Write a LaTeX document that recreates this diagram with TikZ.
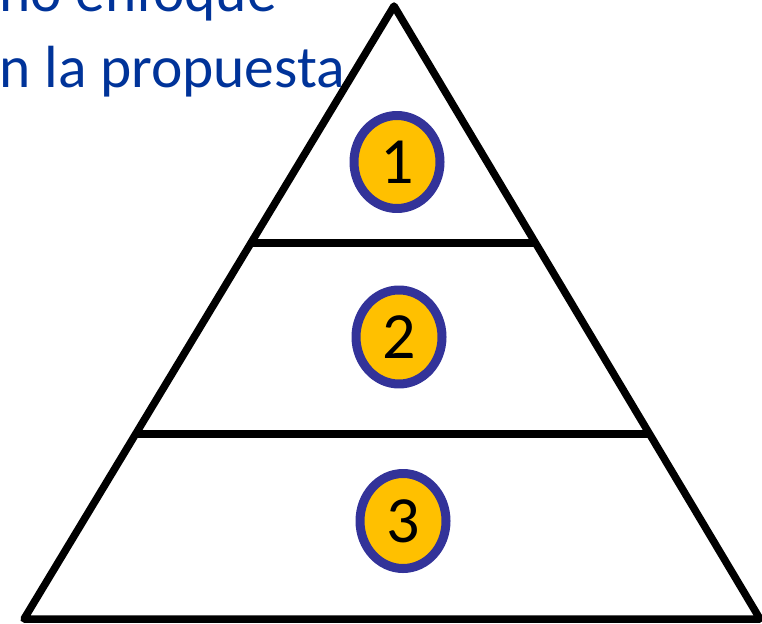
\documentclass[tikz,border=0pt]{standalone}
\usepackage{fontspec}
\setmainfont{Carlito}
\usetikzlibrary{shapes.geometric,calc}
\definecolor{captionblue}{HTML}{003399}
\definecolor{badgegold}{HTML}{FFC000}
\definecolor{badgerim}{HTML}{333399}
\tikzset{
    badge/.style={ellipse, draw=badgerim, line width=9pt, fill=badgegold, inner sep=0pt,
        minimum width=86pt, minimum height=93pt, font=\fontsize{66}{66}\selectfont},
    caption/.style={anchor=base west, inner sep=0pt, text=captionblue, font=\fontsize{59.5}{70}\selectfont}
}
\begin{document}
\begin{tikzpicture}[x=1pt, y=-1pt, line width=7.5pt, line join=round]
    \useasboundingbox (0,0) rectangle (762,623);
    % caption, cut off at the left edge
    \node [caption] (capone) at (-4,12) {no enfoque};
    \node [caption] (captwo) at (-4,88) {n la propuesta};
    % pyramid
    \coordinate (apex) at (394,6);
    \coordinate (baseleft) at (24,619);
    \coordinate (baseright) at (760,619);
    \draw (apex) -- (baseleft) -- (baseright) -- cycle;
    \draw ($(apex)!0.387!(baseleft)$) coordinate (cutoneleft) -- ($(apex)!0.387!(baseright)$) coordinate (cutoneright);
    \draw ($(apex)!0.698!(baseleft)$) coordinate (cuttwoleft) -- ($(apex)!0.698!(baseright)$) coordinate (cuttworight);
    % levels
    \node [badge] (levelone) at (397,162) {1};
    \node [badge, minimum height=94pt] (leveltwo) at (399,337) {2};
    \node [badge, minimum height=95pt] (levelthree) at (403,521) {3};
\end{tikzpicture}
\end{document}
